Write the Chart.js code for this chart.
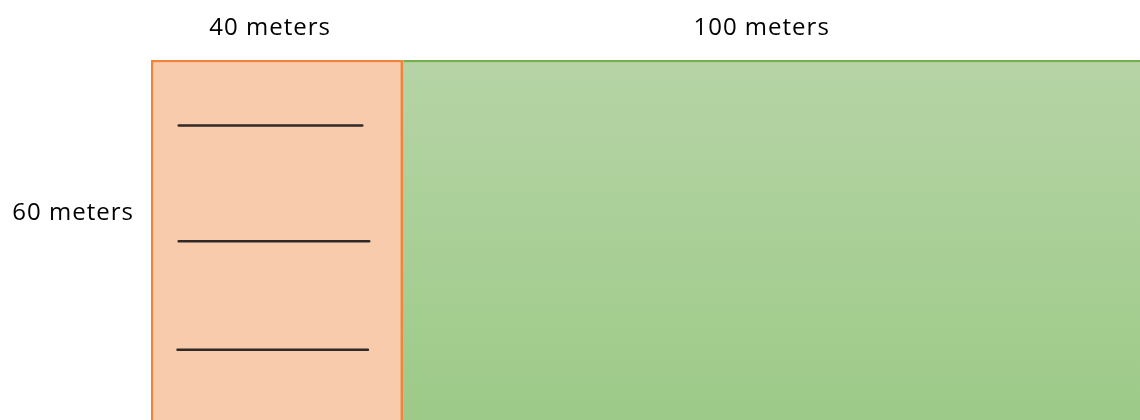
<!DOCTYPE html>
<html>
<head>
<meta charset="utf-8">
<script src="https://cdn.jsdelivr.net/npm/chart.js@4"></script>
<style>
  html, body { margin: 0; padding: 0; background: #fff; overflow: hidden; }
  #wrap { width: 1140px; height: 420px; }
</style>
</head>
<body>
<div id="wrap"><canvas id="plot" width="1140" height="420"></canvas></div>
<script>
// plot sides in meters
const sideLabels = ['40 meters', '100 meters'];
const sideWidths = [40, 100];
const heightLabel = '60 meters';
const heightMeters = 60;

// blank answer lines inside the 40 m strip (x start, x end, y down from top, in meters)
const blankStart = [4.4, 4.4, 4.2];
const blankEnd = [33.5, 34.6, 34.4];
const blankRows = [10.9, 30.2, 48.3];

// layout: the drawing is not to scale, so the two strips get their own axes
const areaW = 988;
const splitPx = 252;
const x1Max = sideWidths[0] * areaW / splitPx;
const x2Span = sideWidths[1] * areaW / (areaW - splitPx);
const x2Min = sideWidths[0] - splitPx * x2Span / areaW;

const FONT = '"Open Sans", "Liberation Sans", sans-serif';

const lineSets = blankRows.map((row, i) => ({
  type: 'line',
  data: [{ x: blankStart[i], y: row }, { x: blankEnd[i], y: row }],
  xAxisID: 'x1',
  yAxisID: 'yl',
  borderColor: '#2f2a27',
  borderWidth: 2.5,
  pointRadius: 0,
  borderCapStyle: 'round',
  order: 0
}));

const labelsPlugin = {
  id: 'sideLabels',
  afterDraw(chart) {
    const ctx = chart.ctx;
    const x1 = chart.scales.x1, x2 = chart.scales.x2;
    ctx.save();
    ctx.font = '24px ' + FONT;
    ctx.letterSpacing = '1px';
    ctx.fillStyle = '#000';
    ctx.textBaseline = 'alphabetic';
    ctx.textAlign = 'center';
    const c1 = (x1.getPixelForValue(0) + x1.getPixelForValue(sideWidths[0])) / 2;
    const c2 = (x2.getPixelForValue(sideWidths[0]) + chart.chartArea.right) / 2;
    ctx.fillText(sideLabels[0], c1 - 7, 35);
    ctx.fillText(sideLabels[1], c2 - 10, 35);
    ctx.textAlign = 'right';
    ctx.fillText(heightLabel, 134, 220);
    ctx.restore();
  }
};

function greenFill(context) {
  const area = context.chart.chartArea;
  if (!area) return '#a8cf95';
  const g = context.chart.ctx.createLinearGradient(0, area.top, 0, area.bottom);
  g.addColorStop(0, '#b6d4a6');
  g.addColorStop(1, '#9dca88');
  return g;
}

new Chart(document.getElementById('plot'), {
  data: {
    labels: [heightLabel],
    datasets: [
      ...lineSets,
      {
        type: 'bar',
        indexAxis: 'y',
        data: [[0, sideWidths[0]]],
        xAxisID: 'x1',
        yAxisID: 'y',
        backgroundColor: '#f8cbad',
        borderColor: '#ef843a',
        borderWidth: { top: 2.5, left: 2.5, right: 3, bottom: 0 },
        borderSkipped: false,
        grouped: false,
        barPercentage: 1,
        categoryPercentage: 1,
        order: 2
      },
      {
        type: 'bar',
        indexAxis: 'y',
        data: [[sideWidths[0], sideWidths[0] + sideWidths[1]]],
        xAxisID: 'x2',
        yAxisID: 'y',
        backgroundColor: greenFill,
        borderColor: '#76ae4e',
        borderWidth: { top: 2.5, left: 0, right: 0, bottom: 0 },
        borderSkipped: false,
        grouped: false,
        barPercentage: 1,
        categoryPercentage: 1,
        order: 3
      }
    ]
  },
  options: {
    responsive: false,
    animation: false,
    layout: { padding: { left: 151, top: 60, right: 0, bottom: 0 } },
    plugins: { legend: { display: false }, tooltip: { enabled: false } },
    scales: {
      x1: { type: 'linear', display: false, min: 0, max: x1Max },
      x2: { type: 'linear', display: false, min: x2Min, max: x2Min + x2Span },
      y: { type: 'category', display: false },
      yl: { type: 'linear', display: false, min: 0, max: heightMeters, reverse: true }
    }
  },
  plugins: [labelsPlugin]
});
</script>
</body>
</html>
